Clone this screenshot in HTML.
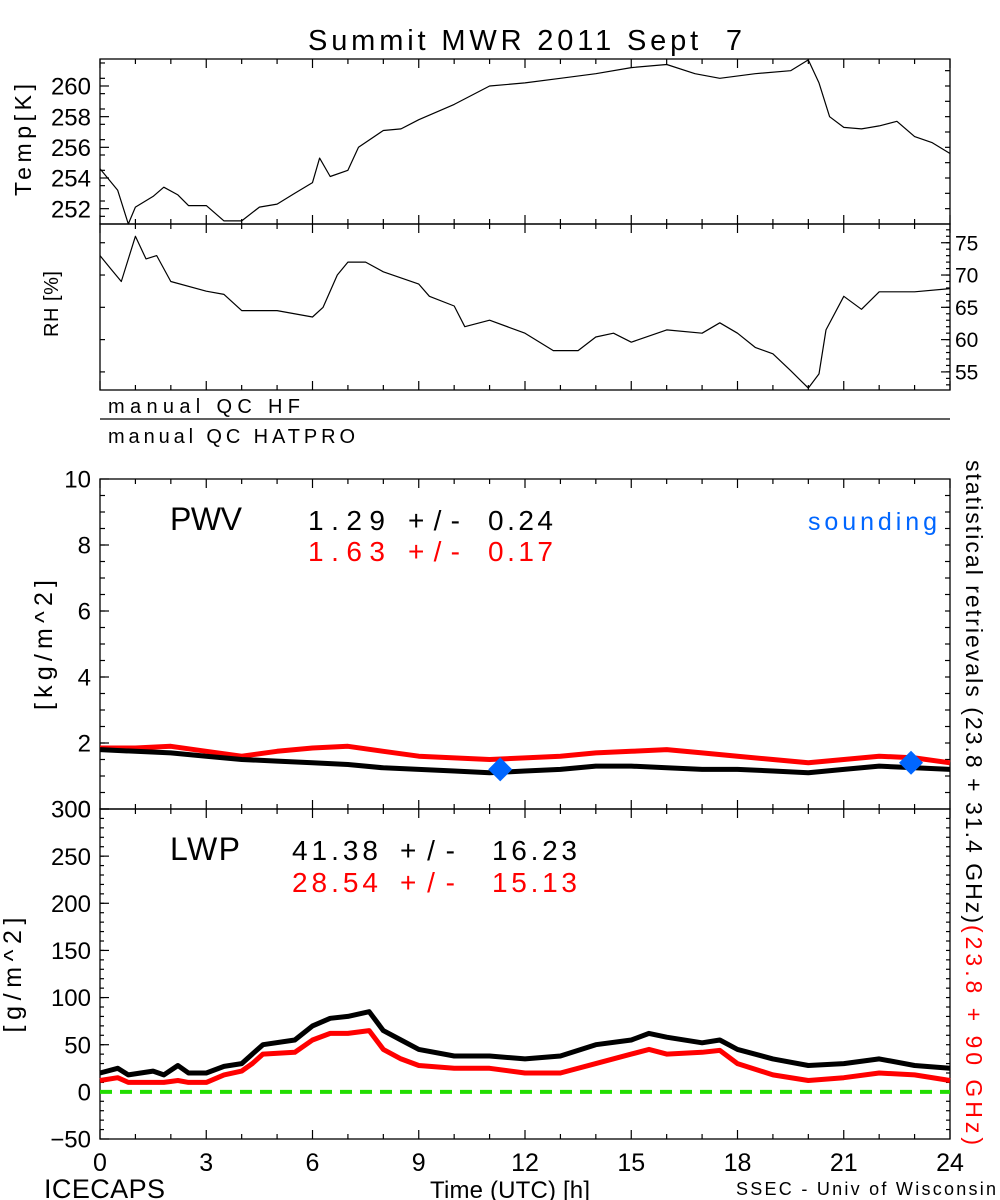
<!DOCTYPE html>
<html><head><meta charset="utf-8"><style>
html,body{margin:0;padding:0;background:#fff;}
svg{display:block;font-family:"Liberation Sans",sans-serif;}
</style></head><body>
<svg id="chart" width="1000" height="1200" viewBox="0 0 1000 1200" xmlns="http://www.w3.org/2000/svg">
<rect width="1000" height="1200" fill="#fff"/>
<text x="308" y="50" font-size="29" textLength="434" lengthAdjust="spacing" xml:space="preserve">Summit MWR 2011 Sept  7</text>
<g id="g"></g>
<text x="108" y="413" font-size="20" textLength="192" lengthAdjust="spacing">manual QC HF</text>
<line x1="100" y1="419" x2="950" y2="419" stroke="#000" stroke-width="1.2"/>
<text x="108" y="443" font-size="20" textLength="247" lengthAdjust="spacing">manual QC HATPRO</text>
<text transform="translate(31,140) rotate(-90)" font-size="23" text-anchor="middle" textLength="112" lengthAdjust="spacing">Temp[K]</text>
<text transform="translate(58,304) rotate(-90)" font-size="20" text-anchor="middle" textLength="66" lengthAdjust="spacing">RH [%]</text>
<text transform="translate(52,645) rotate(-90)" font-size="25" text-anchor="middle" textLength="130" lengthAdjust="spacing">[kg/m^2]</text>
<text transform="translate(21,975) rotate(-90)" font-size="25" text-anchor="middle" textLength="115" lengthAdjust="spacing">[g/m^2]</text>
<text transform="translate(966,460) rotate(90)" font-size="23" textLength="463" lengthAdjust="spacing">statistical retrievals (23.8 + 31.4 GHz)</text>
<text transform="translate(966,925) rotate(90)" font-size="23" fill="#ff0000" textLength="220" lengthAdjust="spacing">(23.8 + 90 GHz)</text>
<text x="170" y="530" font-size="32" textLength="72" lengthAdjust="spacing">PWV</text>
<g font-size="28">
<text x="308" y="530" textLength="77" lengthAdjust="spacing">1.29</text><text x="408" y="530" textLength="52" lengthAdjust="spacing">+/-</text><text x="488" y="530" textLength="65" lengthAdjust="spacing">0.24</text></g>
<g font-size="28" fill="#ff0000">
<text x="308" y="561" textLength="77" lengthAdjust="spacing">1.63</text><text x="408" y="561" textLength="52" lengthAdjust="spacing">+/-</text><text x="488" y="561" textLength="65" lengthAdjust="spacing">0.17</text></g>
<text x="808" y="530" font-size="25" fill="#0066ff" textLength="129" lengthAdjust="spacing">sounding</text>
<text x="170" y="860" font-size="32" textLength="70" lengthAdjust="spacing">LWP</text>
<g font-size="28">
<text x="292" y="860" textLength="86" lengthAdjust="spacing">41.38</text><text x="400" y="860" textLength="55" lengthAdjust="spacing">+/-</text><text x="492" y="860" textLength="85" lengthAdjust="spacing">16.23</text></g>
<g font-size="28" fill="#ff0000">
<text x="292" y="892" textLength="86" lengthAdjust="spacing">28.54</text><text x="400" y="892" textLength="55" lengthAdjust="spacing">+/-</text><text x="492" y="892" textLength="85" lengthAdjust="spacing">15.13</text></g>
<text x="44" y="1198" font-size="27" textLength="121" lengthAdjust="spacing">ICECAPS</text>
<text x="430" y="1198" font-size="24" textLength="160" lengthAdjust="spacing">Time (UTC) [h]</text>
<text x="736" y="1195" font-size="18" textLength="260" lengthAdjust="spacing">SSEC - Univ of Wisconsin</text>
</svg>
<script>
const hours=[0,3,6,9,12,15,18,21,24];
const tempT=[0,0.5,0.8,1,1.5,1.8,2.2,2.5,3,3.5,4,4.5,5,5.5,6,6.2,6.5,7,7.3,8,8.5,9,10,11,12,13,14,15,16,16.8,17.5,18.5,19.5,20,20.3,20.6,21,21.5,22,22.5,23,23.5,24];
const tempV=[254.6,253.2,251,252.1,252.8,253.4,252.9,252.2,252.2,251.2,251.2,252.1,252.3,253,253.7,255.3,254.1,254.5,256,257.1,257.2,257.8,258.8,260,260.2,260.5,260.8,261.2,261.4,260.8,260.5,260.8,261,261.7,260.2,258,257.3,257.2,257.4,257.7,256.7,256.3,255.6];
const rhT=[0,0.3,0.6,1,1.3,1.6,2,3,3.5,4,5,6,6.3,6.7,7,7.5,8,9,9.3,10,10.3,11,12,12.8,13.5,14,14.5,15,16,17,17.5,18,18.5,19,19.5,20,20.3,20.5,21,21.5,22,23,24];
const rhV=[73,71,69,76,72.5,73,69,67.5,67,64.5,64.5,63.5,65,70,72,72,70.5,68.6,66.7,65.2,62,63,61,58.3,58.3,60.4,61,59.6,61.5,61,62.6,61,58.8,57.8,55.2,52.5,54.7,61.5,66.7,64.7,67.4,67.4,67.9];
const pwvT=[0,1,2,3,4,5,6,7,8,9,10,11,12,13,14,15,16,17,18,19,20,21,22,23,24];
const pwvBlack=[1.8,1.75,1.7,1.6,1.5,1.45,1.4,1.35,1.25,1.2,1.15,1.1,1.15,1.2,1.3,1.3,1.25,1.2,1.2,1.15,1.1,1.2,1.3,1.25,1.2];
const pwvRed=[1.85,1.85,1.9,1.75,1.6,1.75,1.85,1.9,1.75,1.6,1.55,1.5,1.55,1.6,1.7,1.75,1.8,1.7,1.6,1.5,1.4,1.5,1.6,1.55,1.4];
const soundT=[11.3,22.9];
const soundV=[1.2,1.4];
const lwpT=[0,0.5,0.8,1.5,1.8,2.2,2.5,3,3.5,4,4.3,4.6,5.5,6,6.5,7,7.6,8,8.5,9,10,11,12,13,14,15,15.5,16,17,17.5,18,19,20,21,22,23,24];
const lwpBlack=[20,25,18,22,18,28,20,20,27,30,40,50,55,70,78,80,85,65,55,45,38,38,35,38,50,55,62,58,52,55,45,35,28,30,35,28,25];
const lwpRed=[12,15,10,10,10,12,10,10,18,22,30,40,42,55,62,62,65,45,35,28,25,25,20,20,30,40,45,40,42,44,30,18,12,15,20,18,12];
const tempTicks=[252,254,256,258,260];
const rhTicks=[55,60,65,70,75];
const pwvTicks=[0,2,4,6,8,10];
const lwpTicks=[-50,0,50,100,150,200,250,300];

const NS='http://www.w3.org/2000/svg';
const g=document.getElementById('g');
const X0=100,X1=950;
const xs=h=>X0+(X1-X0)*h/24;
function lin(d0,d1,p0,p1){return v=>p0+(v-d0)*(p1-p0)/(d1-d0);}
const yT=lin(251.0,261.76,224,59);
const yR=lin(52.2,77.9,390,224);
const yP=lin(0,10,809,479);
const yL=lin(-50,300,1139,809);
function el(tag,attrs){const e=document.createElementNS(NS,tag);for(const k in attrs)e.setAttribute(k,attrs[k]);g.appendChild(e);return e;}
function line(x1,y1,x2,y2){return el('line',{x1,y1,x2,y2,stroke:'#000','stroke-width':1.2});}
function frame(top,bot,name){
  const r=el('rect',{x:X0,y:top,width:X1-X0,height:bot-top,fill:'none',stroke:'#000','stroke-width':1.3});
  
  
  for(let h=0;h<=24;h++){
    const L=h%3===0?9:5;
    line(xs(h),bot,xs(h),bot-L);
    line(xs(h),top,xs(h),top+L);
  }
}
function series(T,V,ys,color,w,name,dash){
  const d=T.map((t,i)=>(i?'L':'M')+xs(t).toFixed(1)+','+ys(V[i]).toFixed(1)).join(' ');
  const p=el('path',{d,fill:'none',stroke:color,'stroke-width':w,'stroke-linejoin':'round'});
  if(dash)p.setAttribute('stroke-dasharray',dash);
  
  
}
function ylabels(ticks,ys,x,anchor,size,name,tickSide){
  ticks.forEach(v=>{
    const t=el('text',{x,y:ys(v)+size*0.36,'font-size':size,'text-anchor':anchor});
    t.textContent=v<0?'\u2212'+Math.abs(v):String(v);
    
    
    if(tickSide==='left')line(X0,ys(v),X0+9,ys(v));
    if(tickSide==='right')line(X1,ys(v),X1-9,ys(v));
  });
}
frame(59,224,'temp-panel');
ylabels(tempTicks,yT,91,'end',24,'temp-tick-label','left');
for(let v=251.5;v<261.7;v+=1)line(X0,yT(v),X0+5,yT(v));
for(let v=252;v<261.7;v+=1)line(X1,yT(v),X1-5,yT(v));
series(tempT,tempV,yT,'#000',1.2,'temp-line');
frame(224,390,'rh-panel');
ylabels(rhTicks,yR,955,'start',21,'rh-tick-label','right');
for(let v=53;v<77.9;v+=1)line(X1,yR(v),X1-4,yR(v));
for(let v=55;v<77.9;v+=5)line(X0,yR(v),X0+5,yR(v));
series(rhT,rhV,yR,'#000',1.2,'rh-line');
frame(479,809,'pwv-panel');
ylabels(pwvTicks,yP,91,'end',24,'pwv-tick-label','left');
for(let v=0.5;v<10;v+=0.5){line(X0,yP(v),X0+5,yP(v));line(X1,yP(v),X1-5,yP(v));}
series(pwvT,pwvRed,yP,'#ff0000',5,'pwv-red-line');
series(pwvT,pwvBlack,yP,'#000',5,'pwv-black-line');
soundT.forEach((t,i)=>{
  const cx=xs(t),cy=yP(soundV[i]);
  const m=el('polygon',{points:`${cx},${cy-12} ${cx+12},${cy} ${cx},${cy+12} ${cx-12},${cy}`,fill:'#0066ff'});
  
  
});
frame(809,1139,'lwp-panel');
ylabels(lwpTicks,yL,91,'end',24,'lwp-tick-label','left');
for(let v=-40;v<300;v+=10){line(X0,yL(v),X0+4,yL(v));line(X1,yL(v),X1-4,yL(v));}
series([0,24],[0,0],yL,'#22dd00',4,'zero-line','12,8');
series(lwpT,lwpBlack,yL,'#000',5,'lwp-black-line');
series(lwpT,lwpRed,yL,'#ff0000',5,'lwp-red-line');
hours.forEach(h=>{
  const t=el('text',{x:xs(h),y:1171,'font-size':25,'text-anchor':'middle'});
  t.textContent=String(h);
  
  
});
</script>
</body></html>
